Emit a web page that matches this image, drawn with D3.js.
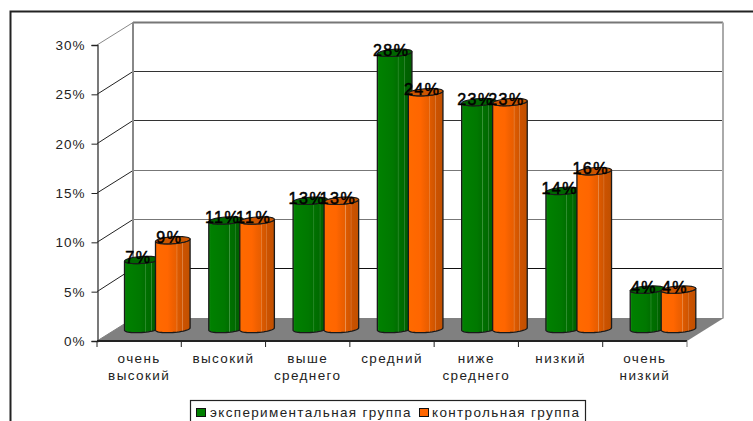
<!DOCTYPE html>
<html lang="ru">
<head>
<meta charset="utf-8">
<title>Распределение по уровням</title>
<script src="https://cdnjs.cloudflare.com/ajax/libs/d3/7.9.0/d3.min.js"></script>
<style>
  html, body { margin: 0; padding: 0; background: #fff; overflow: hidden; }
  svg { display: block; font-family: "Liberation Sans", Arial, sans-serif; }
</style>
</head>
<body>
<svg id="chart" width="753" height="421"></svg>
<script>
// Chart data
const categories = [["очень", "высокий"], ["высокий"], ["выше", "среднего"], ["средний"], ["ниже", "среднего"], ["низкий"], ["очень", "низкий"]];
const seriesNames = ["экспериментальная группа", "контрольная группа"];
const experimental = [7, 11, 13, 28, 23, 14, 4];
const control = [9, 11, 13, 24, 23, 16, 4];
const yTicks = [0, 5, 10, 15, 20, 25, 30];

// Per-series palette: face gradient stops, cap fill, legend swatch
const faceStops = [
  [[0, "#1a8a1a"], [0.06, "#008000"], [0.45, "#007800"], [0.58, "#006f00"], [0.6, "#3f983f"], [0.62, "#007000"], [0.76, "#006a00"], [0.78, "#358835"], [0.8, "#006400"], [1, "#005c00"]],
  [[0, "#ff6a00"], [0.35, "#ff6600"], [0.5, "#f06000"], [0.6, "#e85e00"], [0.62, "#ea9050"], [0.64, "#dd5a00"], [0.76, "#d05500"], [0.78, "#dc8040"], [0.8, "#cc5200"], [1, "#c05000"]]
];
const capFill = ["#006600", "#cc5500"];
const swatchFill = ["#008000", "#ff6600"];

const svg = d3.select("#chart");
const plot = { left: 97, right: 687, top: 45, bottom: 341 };
const depth = { x: 36, y: 24 };

const x0 = d3.scaleBand().domain(d3.range(categories.length)).range([plot.left, plot.right]);
const y = d3.scaleLinear().domain([0, 30]).range([plot.bottom, plot.top]);
// Bar centres inside a category, measured along the floor's front edge
const x1 = d3.scalePoint().domain([0, 1]).range([26.8, 57.8]);

const defs = svg.append("defs");
faceStops.forEach((stops, i) => {
  const g = defs.append("linearGradient").attr("id", "face" + i);
  stops.forEach(([o, c]) => g.append("stop").attr("offset", o).attr("stop-color", c));
});

// Outer frame: only the top and left edges fall inside the page
svg.append("path").attr("d", "M10.5 421V11.5H753").attr("fill", "none").attr("stroke", "#222").attr("stroke-width", 2);

// Floor and walls of the 3D box; wall lines snap to the pixel grid
const back = v => Math.round(y(v) - depth.y + 0.5) + 0.5;
svg.append("polygon")
  .attr("points", [[plot.left, plot.bottom], [plot.right, plot.bottom], [plot.right + depth.x, back(0)], [plot.left + depth.x, back(0)]].join(" "))
  .attr("fill", "#808080");

const gridColor = { 30: "#777", 25: "#333", 20: "#333", 15: "#777", 10: "#777", 5: "#111", 0: "#808080" };
const grid = svg.append("g").attr("fill", "none");
yTicks.forEach(t => {
  grid.append("line")
    .attr("x1", plot.left + depth.x).attr("x2", plot.right + depth.x)
    .attr("y1", back(t)).attr("y2", back(t))
    .attr("stroke", gridColor[t]).attr("stroke-width", t === 30 ? 2 : 1);
  grid.append("line")
    .attr("x1", plot.left).attr("x2", plot.left + depth.x)
    .attr("y1", y(t)).attr("y2", back(t))
    .attr("stroke", t === 30 ? "#888" : t === 0 ? "#808080" : "#222").attr("stroke-width", 1);
});
grid.append("line").attr("x1", plot.left + depth.x).attr("x2", plot.left + depth.x)
  .attr("y1", back(30)).attr("y2", back(0)).attr("stroke", "#888").attr("stroke-width", 2);
grid.append("line").attr("x1", plot.right + depth.x).attr("x2", plot.right + depth.x)
  .attr("y1", back(30)).attr("y2", back(0)).attr("stroke", "#aaa").attr("stroke-width", 2);

// Axes
const yAxis = svg.append("g").attr("transform", `translate(${plot.left + 0.5},0)`)
  .call(d3.axisLeft(y).tickValues(yTicks).tickSize(6).tickPadding(6).tickFormat(d => d + "%"));
yAxis.select(".domain").attr("stroke", "#333").attr("stroke-width", 1.3);
yAxis.selectAll(".tick line").attr("stroke", "#222");
yAxis.selectAll("text").attr("font-size", 13.5).attr("font-family", "Liberation Sans, Arial, sans-serif")
  .attr("letter-spacing", 1).attr("fill", "#222").attr("dy", "0.34em");

const xBase = svg.append("g");
xBase.append("line").attr("x1", plot.left).attr("x2", plot.right)
  .attr("y1", plot.bottom).attr("y2", plot.bottom).attr("stroke", "#222").attr("stroke-width", 2);
xBase.selectAll(".xtick").data(d3.range(categories.length + 1)).join("line").attr("class", "xtick")
  .attr("x1", i => i < categories.length ? x0(i) : plot.right)
  .attr("x2", i => i < categories.length ? x0(i) : plot.right)
  .attr("y1", plot.bottom).attr("y2", plot.bottom + 6)
  .attr("stroke", (d, i) => i === 7 ? "#777" : "#222");

const catLabels = svg.append("g").attr("font-size", 13.5).attr("letter-spacing", 1.4)
  .attr("fill", "#222").attr("text-anchor", "middle");
categories.forEach((lines, i) => {
  const t = catLabels.append("text").attr("x", x0(i) + x0.bandwidth() / 2);
  lines.forEach((s, j) => t.append("tspan")
    .attr("x", x0(i) + x0.bandwidth() / 2).attr("y", 362.5 + j * 17).text(s));
});

// Cylinder geometry: an ellipse lying in the sheared floor plane
const radius = { a: 16.4, dx: 5.5, dy: 3.7 };
const pt = (cx, cy, t) => [cx + radius.a * Math.cos(t) + radius.dx * Math.sin(t), cy - radius.dy * Math.sin(t)];
const t0 = Math.atan2(radius.dx, radius.a);
const arc = (cx, cy, from, to) => d3.range(0, 25).map(k => pt(cx, cy, from + (to - from) * k / 24));
const line = d3.line();

function drawBar(g, cx, value, s) {
  const base = y(0) - depth.y / 2;
  const top = y(value) - depth.y / 2;
  // Front silhouette: down the left side, around the front of the base, up the right side, back over the cap
  const body = [...arc(cx, base, t0 + Math.PI, t0 + 2 * Math.PI), ...arc(cx, top, t0, t0 - Math.PI)];
  g.append("path").attr("d", line(body) + "Z")
    .attr("fill", `url(#face${s})`).attr("stroke", "#1a1a1a").attr("stroke-width", 1.3).attr("stroke-linejoin", "round");
  g.append("path").attr("d", line(arc(cx, top, 0, 2 * Math.PI)) + "Z")
    .attr("fill", capFill[s]).attr("stroke", "#1a1a1a").attr("stroke-width", 1.1);
}

const seriesValues = [experimental, control];
const bars = svg.append("g");
const barCentre = (i, s) => x0(i) + x1(s) + depth.x / 2;
categories.forEach((c, i) => {
  seriesValues.forEach((values, s) => drawBar(bars, barCentre(i, s), values[i], s));
});

// Value labels over the caps
const valueLabels = svg.append("g").attr("font-size", 16).attr("letter-spacing", 1.5)
  .attr("fill", "#000").attr("stroke", "#000").attr("stroke-width", 0.5).attr("text-anchor", "middle");
categories.forEach((c, i) => {
  seriesValues.forEach((values, s) => {
    valueLabels.append("text")
      .attr("x", barCentre(i, s) - 3.5)
      .attr("y", y(values[i]) - depth.y / 2 + 3)
      .text(values[i] + "%");
  });
});

// Legend box runs off the bottom of the page
const legend = svg.append("g");
legend.append("rect").attr("x", 190.5).attr("y", 400.5).attr("width", 395).attr("height", 40)
  .attr("fill", "#fff").attr("stroke", "#222").attr("stroke-width", 1.2);
const legendX = [[196.5, 210], [419.5, 432]];
seriesNames.forEach((name, s) => {
  legend.append("rect").attr("x", legendX[s][0]).attr("y", 408.5).attr("width", 9).attr("height", 8)
    .attr("fill", swatchFill[s]).attr("stroke", "#111").attr("stroke-width", 1);
  legend.append("text").attr("x", legendX[s][1]).attr("y", 416.5)
    .attr("font-size", 13.5).attr("letter-spacing", 1.35).attr("fill", "#222").text(name);
});
</script>
</body>
</html>
